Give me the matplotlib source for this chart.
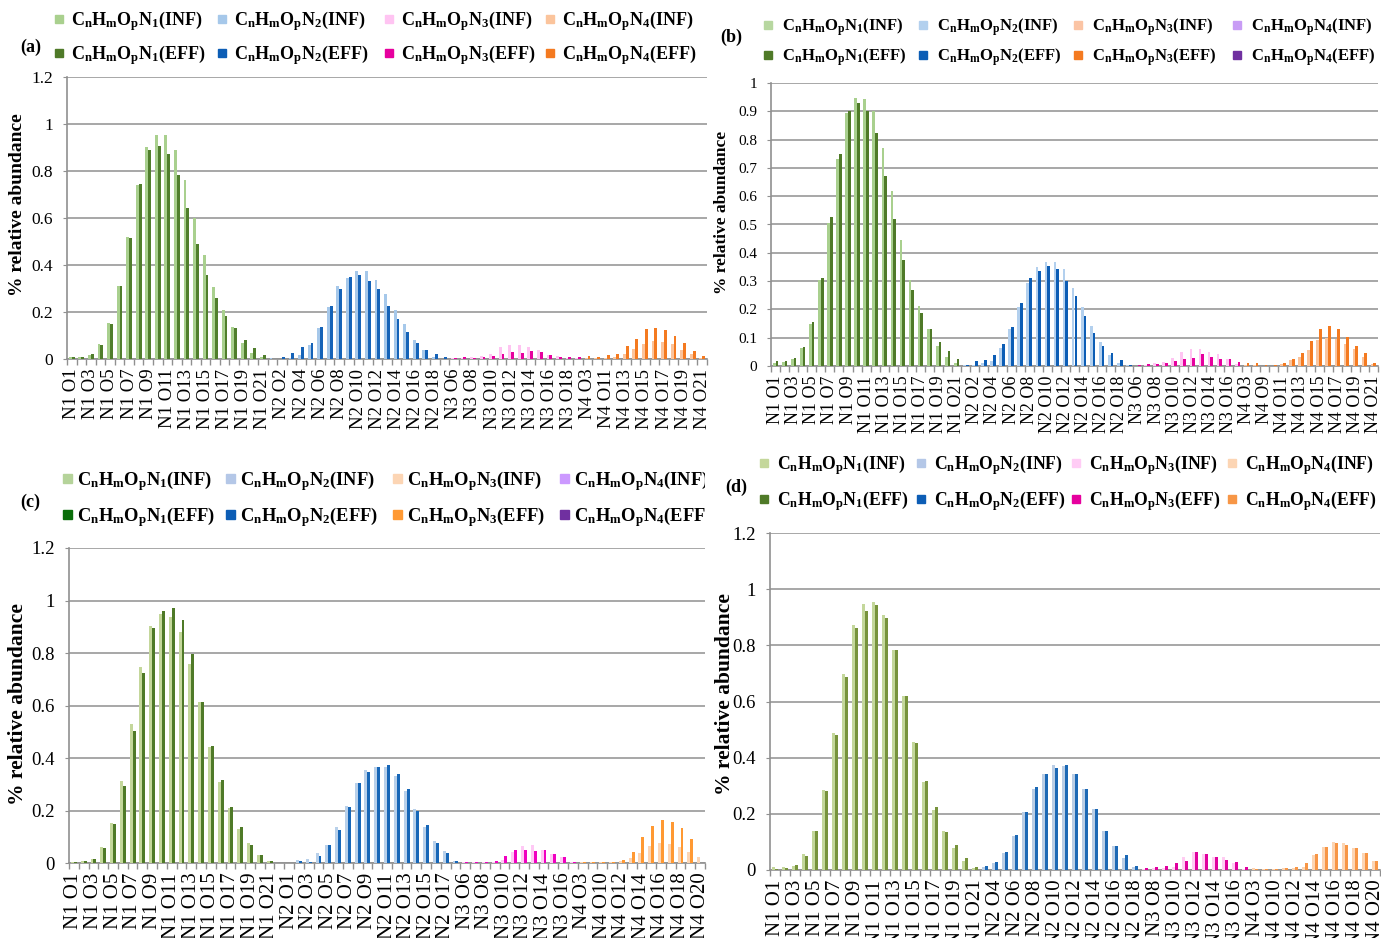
import matplotlib
matplotlib.use('Agg')
import matplotlib.pyplot as plt
from matplotlib.patches import Rectangle
import numpy as np

plt.rcParams['font.family'] = ['Liberation Serif', 'DejaVu Serif']
plt.rcParams['mathtext.fontset'] = 'custom'
plt.rcParams['mathtext.rm'] = 'Liberation Serif'
plt.rcParams['mathtext.bf'] = 'Liberation Serif:bold'
plt.rcParams['mathtext.it'] = 'Liberation Serif:italic'

W, H = 1381, 938


def names(prefix, nums):
    return [f"{prefix} O{i}" for i in nums]


# ---------------- Panel (a) ----------------
a_cats = (names('N1', range(1, 22)) + names('N2', range(1, 20)) +
          names('N3', range(6, 20)) + names('N4', [3, 10] + list(range(11, 22))))
a_inf = [0.007, 0.007, 0.017, 0.062, 0.153, 0.31, 0.52, 0.74, 0.90, 0.955, 0.955,
         0.89, 0.763, 0.60, 0.441, 0.306, 0.21, 0.137, 0.068, 0.026, 0.007,
         0.004, 0.002, 0.005, 0.018, 0.058, 0.13, 0.22, 0.31, 0.343, 0.376, 0.376,
         0.336, 0.277, 0.207, 0.15, 0.082, 0.04, 0.008, 0.0,
         0.003, 0.004, 0.008, 0.012, 0.023, 0.05, 0.061, 0.06, 0.051, 0.04, 0.018,
         0.013, 0.005, 0.004,
         0.004, 0.004, 0.004, 0.01, 0.021, 0.043, 0.064, 0.078, 0.071, 0.064, 0.04,
         0.023, 0.005]
a_eff = [0.007, 0.007, 0.023, 0.058, 0.149, 0.31, 0.515, 0.745, 0.89, 0.908, 0.871,
         0.785, 0.643, 0.488, 0.356, 0.258, 0.184, 0.13, 0.079, 0.048, 0.017,
         0.0, 0.007, 0.026, 0.05, 0.067, 0.137, 0.224, 0.30, 0.347, 0.359, 0.333,
         0.298, 0.224, 0.17, 0.115, 0.068, 0.04, 0.023, 0.009,
         0.003, 0.007, 0.004, 0.007, 0.011, 0.021, 0.03, 0.026, 0.033, 0.028, 0.016,
         0.01, 0.007, 0.007,
         0.011, 0.007, 0.016, 0.021, 0.057, 0.085, 0.128, 0.133, 0.125, 0.10, 0.068,
         0.034, 0.012]

# ---------------- Panel (b) ----------------
b_cats = (names('N1', range(1, 22)) + names('N2', range(1, 20)) +
          names('N3', range(6, 18)) + names('N4', [3, 8] + list(range(9, 22))))
b_inf = [0.01, 0.015, 0.024, 0.063, 0.15, 0.304, 0.507, 0.731, 0.894, 0.947, 0.945,
         0.90, 0.771, 0.62, 0.446, 0.304, 0.212, 0.132, 0.071, 0.031, 0.009,
         0.002, 0.004, 0.009, 0.019, 0.065, 0.13, 0.208, 0.295, 0.351, 0.367, 0.367,
         0.342, 0.275, 0.208, 0.14, 0.085, 0.039, 0.009, 0.002,
         0.001, 0.004, 0.012, 0.013, 0.027, 0.05, 0.06, 0.059, 0.05, 0.041, 0.024, 0.007,
         0.003, 0.002, 0.001, 0.001, 0.007, 0.021, 0.031, 0.057, 0.091, 0.10, 0.094,
         0.077, 0.059, 0.031, 0.007]
b_eff = [0.017, 0.018, 0.03, 0.068, 0.157, 0.312, 0.528, 0.748, 0.90, 0.929, 0.90,
         0.823, 0.67, 0.519, 0.376, 0.268, 0.189, 0.13, 0.086, 0.053, 0.026,
         0.004, 0.017, 0.022, 0.038, 0.077, 0.139, 0.222, 0.311, 0.335, 0.354, 0.342,
         0.30, 0.248, 0.177, 0.116, 0.072, 0.045, 0.022, 0.005,
         0.002, 0.007, 0.007, 0.009, 0.017, 0.026, 0.028, 0.041, 0.031, 0.025, 0.024, 0.013,
         0.011, 0.009, 0.002, 0.003, 0.012, 0.025, 0.047, 0.088, 0.13, 0.141, 0.131,
         0.101, 0.071, 0.045, 0.011]

# ---------------- Panel (c) ----------------
c_cats = (names('N1', range(1, 23)) + names('N2', range(1, 19)) +
          names('N3', range(6, 18)) + names('N4', [3, 9] + list(range(10, 21))))
c_inf = [0.005, 0.008, 0.016, 0.061, 0.152, 0.313, 0.531, 0.748, 0.904, 0.948, 0.939,
         0.881, 0.757, 0.613, 0.441, 0.308, 0.21, 0.13, 0.076, 0.032, 0.009, 0.0,
         0.0, 0.013, 0.015, 0.038, 0.07, 0.136, 0.218, 0.304, 0.355, 0.365, 0.365,
         0.33, 0.276, 0.205, 0.139, 0.082, 0.044, 0.006,
         0.002, 0.005, 0.005, 0.005, 0.01, 0.043, 0.063, 0.068, 0.048, 0.035, 0.023, 0.003,
         0.003, 0.003, 0.004, 0.004, 0.006, 0.019, 0.04, 0.066, 0.076, 0.074, 0.061,
         0.043, 0.023]
c_eff = [0.004, 0.008, 0.016, 0.056, 0.15, 0.292, 0.503, 0.722, 0.897, 0.961, 0.973,
         0.926, 0.798, 0.613, 0.447, 0.317, 0.213, 0.136, 0.07, 0.03, 0.009, 0.0,
         0.0, 0.009, 0.003, 0.025, 0.067, 0.127, 0.215, 0.304, 0.345, 0.365, 0.374,
         0.338, 0.281, 0.199, 0.144, 0.076, 0.038, 0.008,
         0.002, 0.005, 0.005, 0.009, 0.028, 0.048, 0.048, 0.047, 0.048, 0.033, 0.022, 0.003,
         0.003, 0.003, 0.005, 0.005, 0.013, 0.043, 0.098, 0.142, 0.162, 0.156, 0.132,
         0.093, 0.0]

# ---------------- Panel (d) ----------------
d_cats = (names('N1', range(1, 22)) + names('N2', range(3, 19)) +
          names('N3', range(7, 18)) + names('N4', [3, 9] + list(range(10, 21))))
d_inf = [0.011, 0.011, 0.014, 0.056, 0.14, 0.285, 0.487, 0.698, 0.873, 0.948, 0.954,
         0.907, 0.784, 0.62, 0.456, 0.315, 0.214, 0.14, 0.08, 0.032, 0.006,
         0.012, 0.026, 0.06, 0.12, 0.208, 0.29, 0.341, 0.374, 0.37, 0.342, 0.287,
         0.216, 0.14, 0.087, 0.042, 0.012,
         0.002, 0.006, 0.006, 0.012, 0.048, 0.065, 0.056, 0.048, 0.048, 0.024, 0.002,
         0.006, 0.005, 0.002, 0.006, 0.006, 0.012, 0.053, 0.083, 0.101, 0.095, 0.08,
         0.06, 0.033]
d_eff = [0.004, 0.007, 0.018, 0.05, 0.14, 0.283, 0.48, 0.686, 0.863, 0.924, 0.942,
         0.899, 0.783, 0.618, 0.454, 0.316, 0.224, 0.137, 0.088, 0.044, 0.012,
         0.013, 0.03, 0.065, 0.125, 0.208, 0.297, 0.341, 0.362, 0.373, 0.342, 0.287,
         0.216, 0.139, 0.087, 0.052, 0.015,
         0.006, 0.011, 0.015, 0.024, 0.033, 0.065, 0.056, 0.045, 0.037, 0.029, 0.011,
         0.004, 0.002, 0.004, 0.006, 0.011, 0.024, 0.056, 0.081, 0.095, 0.089, 0.08,
         0.062, 0.033]

# legend labels
leg_groups = ['1', '2', '3', '4']
leg_inf = [r'$\mathbf{C_nH_mO_pN_%s(INF)}$' % g for g in leg_groups]
leg_eff = [r'$\mathbf{C_nH_mO_pN_%s(EFF)}$' % g for g in leg_groups]

# colours: bars per group (INF, EFF)
bars_a = {'N1': ('#a9d08e', '#507e2c'), 'N2': ('#a6c8ea', '#1563b8'),
          'N3': ('#ffc4f2', '#e6009e'), 'N4': ('#fbc49c', '#f47a20')}
bars_b = {'N1': ('#a9d08e', '#4f7a28'), 'N2': ('#b3d0ee', '#0c5db5'),
          'N3': ('#ffc4f2', '#e6009e'), 'N4': ('#fbc49c', '#f47a20')}
bars_c = {'N1': ('#c4d79b', '#4f7a28'), 'N2': ('#b8d0ea', '#1767b8'),
          'N3': ('#ffc8f5', '#f000c0'), 'N4': ('#fcd5b4', '#ff9933')}
bars_d = {'N1': ('#c4d79b', '#77933c'), 'N2': ('#b9cde5', '#1b68b5'),
          'N3': ('#ffccf2', '#e0009e'), 'N4': ('#fcd5b4', '#f79646')}
# legend colours (INF list, EFF list)
leg_a = (['#a9d08e', '#a6c8ea', '#ffc4f2', '#fbc49c'], ['#4f7a28', '#0c5db5', '#e6009e', '#f47a20'])
leg_b = (['#b7d7a0', '#b3d0ee', '#fbc4a4', '#c89cf5'], ['#4f7a28', '#0c5db5', '#f47a20', '#7030a0'])
leg_c = (['#b5d39a', '#b4c7e7', '#fcd5b4', '#cc99ff'], ['#0a6e0a', '#0c5db5', '#ff9933', '#7030a0'])
leg_d = (['#c4d79b', '#b4c7e7', '#ffccf5', '#fcd5b4'], ['#4f7a28', '#0c5db5', '#e6009e', '#f79646'])

fig = plt.figure(figsize=(W / 100, H / 100), dpi=100)


def px_axes(x0, x1, y0, y1):
    ax = fig.add_axes([x0 / W, 1 - y1 / H, (x1 - x0) / W, (y1 - y0) / H])
    return ax


def draw_panel(box, cats, inf, eff, cols, ymax, ystep, fs_tick, fs_x, ylab_xy, fs_ylab):
    x0, x1, ytop, ybot = box
    ax = px_axes(x0, x1, ytop, ybot)
    n = len(cats)
    x = np.arange(n)
    groups = [c.split()[0] for c in cats]
    w = 0.3
    ax.bar(x - w / 2, inf, w, color=[cols[g][0] for g in groups], zorder=3, linewidth=0)
    ax.bar(x + w / 2, eff, w, color=[cols[g][1] for g in groups], zorder=3, linewidth=0)
    ax.set_xlim(-0.5, n - 0.5)
    ax.set_ylim(0, ymax)
    ticks = np.arange(0, ymax + 1e-9, ystep)
    ax.set_yticks(ticks)
    ax.set_yticklabels([f"{round(t, 2):g}" for t in ticks])
    ax.yaxis.grid(True, color='#a0a0a0', lw=1.3)
    ax.set_axisbelow(True)
    for s in ['top', 'right']:
        ax.spines[s].set_visible(False)
    for s in ['left', 'bottom']:
        ax.spines[s].set_color('#909090')
        ax.spines[s].set_linewidth(1.2)
    ax.set_xticks(x)
    ax.set_xticklabels([c if i % 2 == 0 else '' for i, c in enumerate(cats)],
                       rotation=90, fontsize=fs_x)
    ax.tick_params(axis='x', which='major', length=0, pad=7)
    ax.set_xticks(np.arange(-0.5, n), minor=True)
    ax.tick_params(axis='x', which='minor', length=4, color='#909090', width=1)
    ax.tick_params(axis='y', length=3, color='#909090', labelsize=fs_tick, pad=7)
    fig.text(ylab_xy[0] / W, 1 - ylab_xy[1] / H, '% relative abundance', rotation=90,
             ha='center', va='center', fontsize=fs_ylab, fontweight='bold')
    return ax


draw_panel((67, 707, 77, 359), a_cats, a_inf, a_eff, bars_a, 1.2, 0.2, 12.5, 13.5, (18, 205), 14)
draw_panel((771, 1378, 83, 366), b_cats, b_inf, b_eff, bars_b, 1.0, 0.1, 11, 13, (722, 212), 12.5)
draw_panel((69, 705, 548, 863), c_cats, c_inf, c_eff, bars_c, 1.2, 0.2, 13.5, 15, (18, 704), 15.5)
draw_panel((770, 1380, 533, 870), d_cats, d_inf, d_eff, bars_d, 1.2, 0.2, 13.5, 15, (725, 694), 15.5)


def draw_legend(clip_x1, rows_y, mark_x, text_dx, leg_cols, fs, msize, tag, tag_xy):
    ov = px_axes(0, clip_x1, 0, H)
    ov.set_xlim(0, clip_x1)
    ov.set_ylim(H, 0)
    ov.axis('off')
    for r, (labels, colors) in enumerate([(leg_inf, leg_cols[0]), (leg_eff, leg_cols[1])]):
        y = rows_y[r]
        for j in range(4):
            mx = mark_x[j]
            ov.add_patch(Rectangle((mx, y - msize / 2 - 2), msize, msize, color=colors[j],
                                   clip_on=True))
            ov.text(mx + text_dx, y, labels[j], fontsize=fs, ha='left', va='center',
                    clip_on=True)
    ov.text(tag_xy[0], tag_xy[1], tag, fontsize=13, fontweight='bold', ha='left',
            va='center', clip_on=True)


draw_legend(W, (21, 55), (55, 218, 385, 546), 16, leg_a, 13, 8, '(a)', (20, 47))
draw_legend(W, (27, 57), (764, 919, 1074, 1233), 18, leg_b, 12, 8, '(b)', (720, 37))
draw_legend(705, (481, 517), (63, 226, 393, 560), 14, leg_c, 13.3, 9, '(c)', (20, 502))
draw_legend(W, (465, 501), (760, 917, 1072, 1228), 17, leg_d, 12.7, 8, '(d)', (725, 487))

fig.savefig('out.png', dpi=100, facecolor='white')
